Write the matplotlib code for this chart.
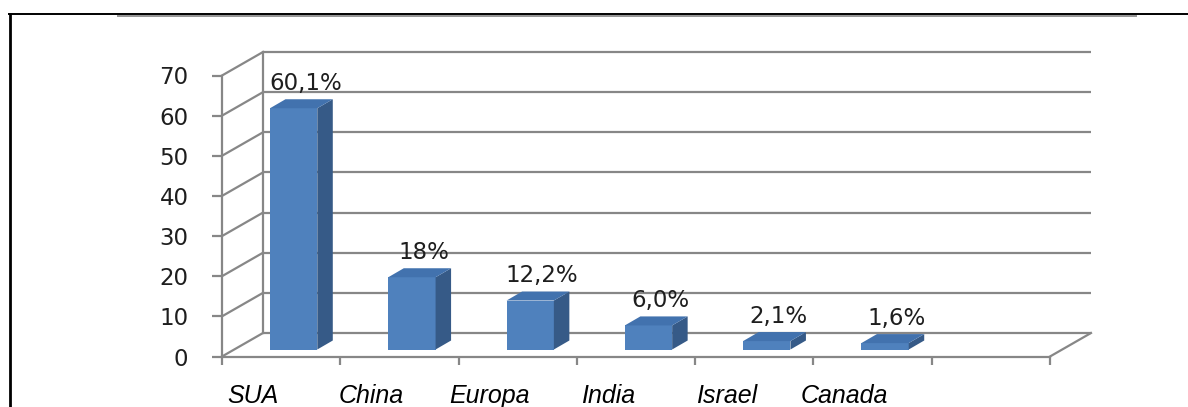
import matplotlib
matplotlib.use('Agg')
import matplotlib.pyplot as plt
from matplotlib.patches import Polygon
from matplotlib.lines import Line2D
import numpy as np

# ---------------- data ----------------
categories = ['SUA', 'China', 'Europa', 'India', 'Israel', 'Canada']
values = [60.1, 18.0, 12.2, 6.0, 2.1, 1.6]
value_labels = ['60,1%', '18%', '12,2%', '6,0%', '2,1%', '1,6%']
y_ticks = [0, 10, 20, 30, 40, 50, 60, 70]
n_slots = 7  # the category axis has one empty slot at the end

# ---------------- style ----------------
W, H, DPI = 1188, 407, 100
GRID = '#878787'
FRONT = '#4F81BD'
TOP = '#4272AE'
SIDE = '#365A87'
TXT = '#1e1e1e'

fig = plt.figure(figsize=(W / DPI, H / DPI), dpi=DPI)
fig.patch.set_facecolor('white')

left_px, right_px = 222, 1050
bottom_px, top_px = 356.5, 75.5
ax = fig.add_axes([left_px / W, (H - bottom_px) / H,
                   (right_px - left_px) / W, (bottom_px - top_px) / H])
ax.set_xlim(0, n_slots)
ax.set_ylim(0, y_ticks[-1])
ax.patch.set_alpha(0)

sx = (right_px - left_px) / n_slots          # px per category unit
sy = (bottom_px - top_px) / y_ticks[-1]      # px per value unit

def d(px_x, px_y):
    return px_x / sx, px_y / sy

BX, BY = d(41, 23.5)     # depth of the floor / back wall
FX, FY = d(12.5, 7.0)    # bar front offset from the front axis
DX, DY = d(15.5, 9.0)    # bar depth
BW = 47.3 / sx           # bar width

lw = 1.6
# back wall gridlines
for v in y_ticks:
    ax.plot([BX, n_slots + BX], [v + BY, v + BY], color=GRID, lw=lw,
            clip_on=False, zorder=1, solid_capstyle='butt')
    # side wall diagonals
    ax.plot([0, BX], [v, v + BY], color=GRID, lw=lw, clip_on=False, zorder=1)
# back wall left edge
ax.plot([BX, BX], [BY, y_ticks[-1] + BY], color=GRID, lw=lw, clip_on=False, zorder=1)
# floor right diagonal
ax.plot([n_slots, n_slots + BX], [0, BY], color=GRID, lw=lw, clip_on=False, zorder=1)

# spines / ticks
for s in ['top', 'right']:
    ax.spines[s].set_visible(False)
for s in ['left', 'bottom']:
    ax.spines[s].set_color(GRID)
    ax.spines[s].set_linewidth(lw)
    ax.spines[s].set_zorder(1)

ax.set_yticks(y_ticks)
ax.set_yticklabels([str(t) for t in y_ticks])
ax.tick_params(axis='y', direction='out', length=7.2, width=lw, color=GRID,
               pad=17, labelsize=16.5, labelcolor=TXT)
ax.set_xticks(np.arange(n_slots + 1))
ax.set_xticklabels([])
ax.tick_params(axis='x', direction='out', length=5.8, width=lw, color=GRID)
for lab in ax.get_yticklabels():
    lab.set_fontfamily('DejaVu Sans')

# bars
cx = np.arange(len(values)) + 0.5
ax.bar(cx + FX, values, width=BW, bottom=FY, color=FRONT, zorder=3,
       clip_on=False, linewidth=0)
for x, v, lbl in zip(cx, values, value_labels):
    xl = x + FX - BW / 2
    xr = x + FX + BW / 2
    yt = FY + v
    side = Polygon([(xr, FY), (xr, yt), (xr + DX, yt + DY), (xr + DX, FY + DY)],
                   closed=True, facecolor=SIDE, edgecolor='none', zorder=3, clip_on=False)
    top = Polygon([(xl, yt), (xr, yt), (xr + DX, yt + DY), (xl + DX, yt + DY)],
                  closed=True, facecolor=TOP, edgecolor='none', zorder=3, clip_on=False)
    ax.add_patch(side)
    ax.add_patch(top)
    ax.annotate(lbl, xy=(x + FX + DX / 2, yt + DY), xytext=(4 * 0.72, 9.5 * 0.72),
                textcoords='offset points', ha='center', va='baseline',
                fontsize=16.5, color=TXT, family='DejaVu Sans', zorder=4,
                annotation_clip=False)

# category labels
for x, c in zip(cx, categories):
    ax.annotate(c, xy=(x, 0), xytext=(-28 * 0.72, -46.5 * 0.72),
                textcoords='offset points', ha='center', va='baseline',
                fontsize=18, fontstyle='italic', family='Liberation Sans',
                color='black', annotation_clip=False)

# page frame lines
def fx(px):
    return px / W

def fy(py):
    return 1 - py / H

fig.add_artist(Line2D([fx(117), fx(1137)], [fy(15.6), fy(15.6)], color='#8c8c8c',
                      lw=1.3, solid_capstyle='butt'))
fig.add_artist(Line2D([fx(8.3), fx(W)], [fy(14.0), fy(14.0)], color='black',
                      lw=1.4, solid_capstyle='butt'))
fig.add_artist(Line2D([fx(9.6), fx(9.6)], [fy(13.3), fy(H)], color='black',
                      lw=2.0, solid_capstyle='butt'))

fig.savefig('out.png', dpi=DPI, facecolor='white')
